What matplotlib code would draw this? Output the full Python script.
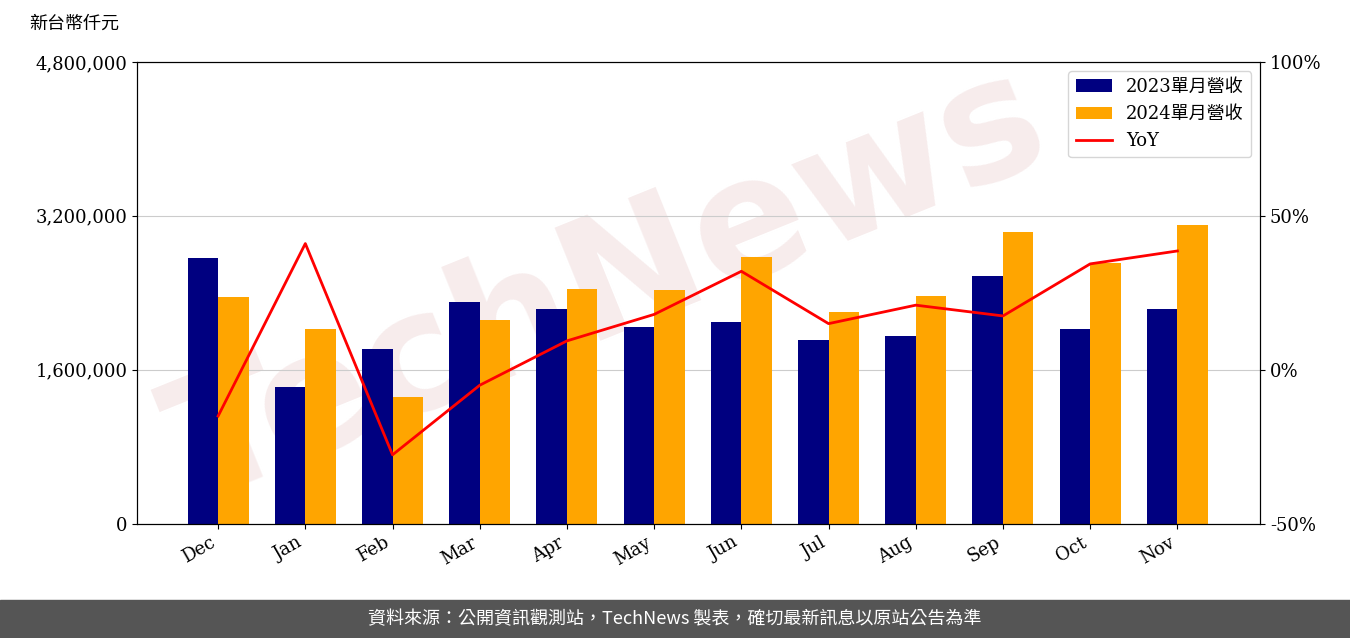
import matplotlib
matplotlib.use('Agg')
import matplotlib.pyplot as plt
import numpy as np
from matplotlib.ticker import FuncFormatter

plt.rcParams['font.family'] = ['DejaVu Serif', 'Noto Sans CJK TC']

months = ['Dec', 'Jan', 'Feb', 'Mar', 'Apr', 'May', 'Jun', 'Jul', 'Aug', 'Sep', 'Oct', 'Nov']
rev_2023 = [2760000, 1420000, 1820000, 2310000, 2230000, 2050000, 2100000, 1910000, 1950000, 2580000, 2020000, 2230000]
rev_2024 = [2360000, 2020000, 1320000, 2120000, 2440000, 2430000, 2770000, 2200000, 2370000, 3030000, 2710000, 3100000]
yoy = [-15.0, 41.0, -27.6, -5.0, 9.4, 18.0, 32.0, 15.0, 21.0, 17.5, 34.4, 38.6]

fig = plt.figure(figsize=(13.5, 6.38), dpi=100)

# faint watermark behind everything
fig.text(0.45, 0.55, 'TechNews', fontsize=120, color='#e8c8c8', alpha=0.35, rotation=22,
         ha='center', va='center', fontweight='bold', family=['DejaVu Sans'], zorder=-1)

ax = fig.add_axes([0.1015, 0.179, 0.832, 0.724])
ax.set_facecolor('none')
x = np.arange(len(months))
w = 0.35
ax.bar(x - w / 2, rev_2023, w, color='#000080', label='2023單月營收', zorder=2)
ax.bar(x + w / 2, rev_2024, w, color='#FFA500', label='2024單月營收', zorder=2)
ax.set_ylim(0, 4800000)
ax.set_yticks([0, 1600000, 3200000, 4800000])
ax.yaxis.set_major_formatter(FuncFormatter(lambda v, p: f'{int(v):,}'))
ax.grid(axis='y', color='#cccccc', zorder=0)
ax.set_xticks(x)
ax.set_xticklabels(months, rotation=30, ha='right')
ax.set_xlim(-0.93, 11.95)
ax.tick_params(labelsize=13)

ax2 = ax.twinx()
ax2.plot(x, yoy, color='red', lw=2, label='YoY')
ax2.set_ylim(-50, 100)
ax2.set_yticks([-50, 0, 50, 100])
ax2.yaxis.set_major_formatter(FuncFormatter(lambda v, p: f'{int(v)}%'))
ax2.tick_params(labelsize=13)

h1, l1 = ax.get_legend_handles_labels()
h2, l2 = ax2.get_legend_handles_labels()
ax2.legend(h1 + h2, l1 + l2, loc='upper right', fontsize=13)

fig.text(0.022, 0.955, '新台幣仟元', fontsize=13, family=['Noto Sans CJK TC'])

fig.patches.append(plt.Rectangle((0, 0), 1, 0.06, transform=fig.transFigure, color='#555555', zorder=0))
fig.text(0.5, 0.03, '資料來源：公開資訊觀測站，TechNews 製表，確切最新訊息以原站公告為準', color='white',
         fontsize=13, ha='center', va='center', family=['Noto Sans CJK TC'])

fig.savefig('out.png')
